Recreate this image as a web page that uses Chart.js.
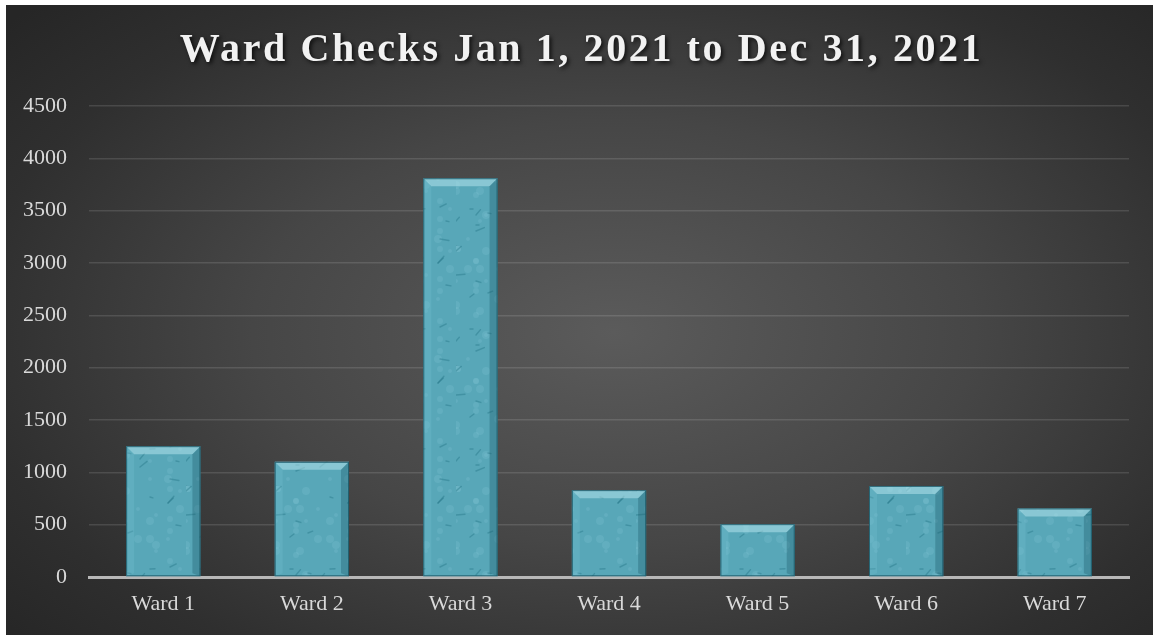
<!DOCTYPE html>
<html>
<head>
<meta charset="utf-8">
<script src="https://cdn.jsdelivr.net/npm/chart.js@4/dist/chart.umd.min.js"></script>
<style>
  html, body { margin: 0; padding: 0; background: #fff; }
  #wrap {
    position: absolute; left: 6px; top: 5px; width: 1147px; height: 630px;
    background: radial-gradient(ellipse 70% 75% at 53% 52%, #5b5b5b 0%, #464646 45%, #2f2f2f 80%, #262626 100%);
  }
</style>
</head>
<body>
<div id="wrap"><canvas id="chart" width="1147" height="630"></canvas></div>
<script>
const titleText = 'Ward Checks Jan 1, 2021 to Dec 31, 2021';
const wards = ['Ward 1', 'Ward 2', 'Ward 3', 'Ward 4', 'Ward 5', 'Ward 6', 'Ward 7'];
const checks = [1250, 1100, 3810, 830, 505, 870, 655];
const yTicks = [0, 500, 1000, 1500, 2000, 2500, 3000, 3500, 4000, 4500];

const serif = '"Liberation Serif", "Times New Roman", serif';

// teal stone fill: base colour with soft darker streaks and blotches
function stonePattern() {
    const c = document.createElement('canvas');
    c.width = 90; c.height = 120;
    const g = c.getContext('2d');
    g.fillStyle = '#58a7b8';
    g.fillRect(0, 0, c.width, c.height);
    g.fillStyle = 'rgba(140, 205, 218, 0.2)';
    for (let i = 0; i < 40; i++) {
        g.beginPath();
        g.arc((i * i * 7 + i * 13) % 90, (i * i * 11 + i * 5) % 120, 2 + (i % 3), 0, Math.PI * 2);
        g.fill();
    }
    g.strokeStyle = 'rgba(35, 115, 132, 0.4)';
    g.lineWidth = 1.4;
    g.lineCap = 'round';
    for (let i = 0; i < 22; i++) {
        const x = (i * i * 17 + i * 3) % 90;
        const y = (i * i * 5 + i * 31) % 120;
        const a = Math.sin(i * 1.7) * 0.6 - 0.3;
        const len = 3 + (i % 4) * 2;
        g.beginPath();
        g.moveTo(x, y);
        g.lineTo(x + Math.cos(a) * len, y + Math.sin(a) * len);
        g.stroke();
    }
    return g.createPattern(c, 'repeat');
}

// bevelled edges on every bar
const bevel = {
    id: 'bevel',
    afterDatasetsDraw(chart) {
        const ctx = chart.ctx;
        const b = 8;
        chart.getDatasetMeta(0).data.forEach(bar => {
            const l = bar.x - bar.width / 2, r = bar.x + bar.width / 2;
            const t = bar.y, btm = bar.base;
            ctx.save();
            ctx.fillStyle = 'rgba(185, 232, 240, 0.5)';
            ctx.beginPath();
            ctx.moveTo(l, t); ctx.lineTo(r, t); ctx.lineTo(r - b, t + b); ctx.lineTo(l + b, t + b);
            ctx.fill();
            ctx.fillStyle = 'rgba(120, 195, 210, 0.25)';
            ctx.beginPath();
            ctx.moveTo(l, t); ctx.lineTo(l + b, t + b); ctx.lineTo(l + b, btm - 3); ctx.lineTo(l, btm);
            ctx.fill();
            ctx.fillStyle = 'rgba(20, 80, 95, 0.3)';
            ctx.beginPath();
            ctx.moveTo(r, t); ctx.lineTo(r - b, t + b); ctx.lineTo(r - b, btm - 3); ctx.lineTo(r, btm);
            ctx.fill();
            ctx.strokeStyle = 'rgba(25, 85, 100, 0.8)';
            ctx.lineWidth = 1;
            ctx.strokeRect(l + 0.5, t + 0.5, bar.width - 1, btm - t - 1);
            ctx.restore();
        });
    }
};

// spaced bold title with a soft drop shadow
const spacedTitle = {
    id: 'spacedTitle',
    afterDraw(chart) {
        const ctx = chart.ctx;
        ctx.save();
        ctx.font = 'bold 40px ' + serif;
        ctx.letterSpacing = '2.6px';
        ctx.textAlign = 'center';
        ctx.textBaseline = 'alphabetic';
        ctx.shadowColor = 'rgba(0, 0, 0, 0.75)';
        ctx.shadowBlur = 4;
        ctx.shadowOffsetX = 2;
        ctx.shadowOffsetY = 2;
        ctx.fillStyle = '#f2f2f2';
        ctx.fillText(titleText, chart.width / 2 + 2, 56);
        ctx.restore();
    }
};

new Chart(document.getElementById('chart'), {
    type: 'bar',
    data: {
        labels: wards,
        datasets: [{
            data: checks,
            backgroundColor: stonePattern(),
            borderWidth: 0,
            barPercentage: 0.5,
            categoryPercentage: 1
        }]
    },
    options: {
        responsive: false,
        animation: false,
        layout: { padding: { top: 101, right: 24, left: 0, bottom: 0 } },
        plugins: {
            legend: { display: false },
            tooltip: { enabled: false }
        },
        scales: {
            x: {
                grid: { display: false, drawTicks: false },
                border: { color: '#b8b8b8', width: 3 },
                ticks: { color: '#d9d9d9', padding: 14, font: { family: serif, size: 22 } },
                afterFit(s) { s.height = 58; }
            },
            y: {
                min: 0,
                max: 4500,
                afterBuildTicks(s) { s.ticks = yTicks.map(v => ({ value: v })); },
                grid: { color: 'rgba(255, 255, 255, 0.12)', lineWidth: 1.5, drawTicks: false },
                border: { display: false },
                ticks: {
                    color: '#d9d9d9', padding: 22, font: { family: serif, size: 22 },
                    callback: v => String(v)
                },
                afterFit(s) { s.width = 83; }
            }
        }
    },
    plugins: [bevel, spacedTitle]
});
</script>
</body>
</html>
